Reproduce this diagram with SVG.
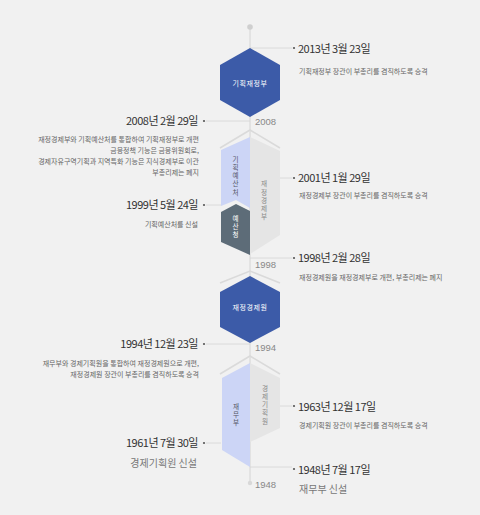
<svg xmlns="http://www.w3.org/2000/svg" width="480" height="515" viewBox="0 0 480 515">
<style>
.date{font-family:"Noto Sans CJK KR","Noto Sans",sans-serif;font-size:11px;fill:#333;letter-spacing:-0.5px}
.desc{font-family:"Noto Sans CJK KR",sans-serif;font-size:7px;fill:#666}
.big{font-family:"Noto Sans CJK KR",sans-serif;font-size:10px;fill:#777}
.yr{font-family:"Liberation Sans",Arial,sans-serif;font-size:9.5px;fill:#888}
.hex{font-family:"Noto Sans CJK KR",sans-serif;font-size:7px;fill:#fff;letter-spacing:0.6px}
.vt{font-family:"Noto Sans CJK KR",sans-serif;font-size:6.6px;text-anchor:middle;writing-mode:vertical-rl;letter-spacing:1.6px}
.lead{stroke:#d6d6d6;stroke-width:0.8;fill:none}
.chev{stroke:#dadada;stroke-width:1.6;fill:none}
.dot{fill:#555}
</style>
<rect width="480" height="515" fill="#f1f1f1"/>
<g id="connectors">
<line x1="250" y1="27" x2="250" y2="483" stroke="#d4d4d4" stroke-width="1"/>
<circle cx="250" cy="27" r="2.8" fill="#cfcfcf"/>
<circle cx="250" cy="483" r="2.2" fill="#d8d8d8"/>
<polyline class="chev" points="220,148 250,130 280,148"/>
<polyline class="chev" points="220,283 250,271 280,283"/>
<polyline class="chev" points="220,374 250,356 280,374"/>
<line class="lead" x1="250" y1="48" x2="292" y2="48"/>
<line class="lead" x1="280" y1="178" x2="292" y2="178"/>
<line class="lead" x1="250" y1="258" x2="292" y2="258"/>
<line class="lead" x1="280" y1="406" x2="292" y2="406"/>
<line class="lead" x1="250" y1="467" x2="292" y2="467"/>
<line class="lead" x1="206" y1="121" x2="250" y2="121"/>
<line class="lead" x1="206" y1="205" x2="221" y2="205"/>
<line class="lead" x1="206" y1="344" x2="250" y2="344"/>
<line class="lead" x1="206" y1="443" x2="221" y2="443"/>
</g>
<g id="node-mosf">
<polygon points="250,48 280,65 280,100 250,117 220,100 220,65" fill="#3c5ba8"/>
<text class="hex" x="250" y="85.5" text-anchor="middle">기획재정부</text>
</g>
<g id="node-mope">
<polygon points="250,137 280,151 280,235 250,254" fill="#e5e5e5"/>
<text class="vt" x="264" y="201" fill="#888">재정경제부</text>
</g>
<g id="node-mpb">
<polygon points="221,150 250,137 250,208 236,200 221,206" fill="#ccd5f6"/>
<text class="vt" x="235.5" y="176.5" fill="#556">기획예산처</text>
</g>
<g id="node-budget">
<polygon points="221,212 236,204 250,211 250,255 221,242" fill="#5d6c78"/>
<text class="vt" x="235.5" y="227.5" fill="#fff">예산청</text>
</g>
<g id="node-mofe">
<polygon points="250,276 280,292 280,327 250,343 220,327 220,292" fill="#3c5ba8"/>
<text class="hex" x="250" y="309.5" text-anchor="middle">재정경제원</text>
</g>
<g id="node-epb">
<polygon points="250,363 280,378 280,428 250,442" fill="#e5e5e5"/>
<text class="vt" x="265" y="405.5" fill="#888">경제기획원</text>
</g>
<g id="node-mof">
<polygon points="222,378 250,363 250,467 222,450" fill="#ccd5f6"/>
<text class="vt" x="236" y="415.5" fill="#556">재무부</text>
</g>
<g id="years">
<text class="yr" x="255" y="124.5">2008</text>
<text class="yr" x="255" y="267.5">1998</text>
<text class="yr" x="255" y="350.5">1994</text>
<text class="yr" x="255" y="487.5">1948</text>
</g>
<g id="right-events">
<circle class="dot" cx="294" cy="48" r="1.1"/>
<text class="date" x="298" y="52.5">2013년 3월 23일</text>
<text class="desc" x="299" y="73.5">기획재정부 장관이 부총리를 겸직하도록 승격</text>
<circle class="dot" cx="294" cy="178" r="1.1"/>
<text class="date" x="298" y="182">2001년 1월 29일</text>
<text class="desc" x="299" y="197.5">재정경제부 장관이 부총리를 겸직하도록 승격</text>
<circle class="dot" cx="294" cy="258" r="1.1"/>
<text class="date" x="298" y="261.5">1998년 2월 28일</text>
<text class="desc" x="299" y="279.5">재정경제원을 재정경제부로 개편, 부총리제는 폐지</text>
<circle class="dot" cx="294" cy="406" r="1.1"/>
<text class="date" x="298" y="410.5">1963년 12월 17일</text>
<text class="desc" x="299" y="427.5">경제기획원 장관이 부총리를 겸직하도록 승격</text>
<circle class="dot" cx="294" cy="469" r="1.1"/>
<text class="date" x="298" y="473.5">1948년 7월 17일</text>
<text class="big" x="299" y="492.5">재무부 신설</text>
</g>
<g id="left-events">
<circle class="dot" cx="204" cy="121" r="1.1"/>
<text class="date" x="198" y="125" text-anchor="end">2008년 2월 29일</text>
<text class="desc" text-anchor="end"><tspan x="199" y="141.5">재정경제부와 기획예산처를 통합하여 기획재정부로 개편</tspan><tspan x="199" y="152.5">금융정책 기능은 금융위원회로,</tspan><tspan x="199" y="163.5">경제자유구역기획과 지역특화 기능은 지식경제부로 이관</tspan><tspan x="199" y="174.5">부총리제는 폐지</tspan></text>
<circle class="dot" cx="204" cy="205" r="1.1"/>
<text class="date" x="198" y="209" text-anchor="end">1999년 5월 24일</text>
<text class="desc" x="198" y="226.5" text-anchor="end">기획예산처를 신설</text>
<circle class="dot" cx="204" cy="344" r="1.1"/>
<text class="date" x="198" y="348" text-anchor="end">1994년 12월 23일</text>
<text class="desc" text-anchor="end"><tspan x="199" y="365.5">재무부와 경제기획원을 통합하여 재정경제원으로 개편,</tspan><tspan x="199" y="376.5">재정경제원 장관이 부총리를 겸직하도록 승격</tspan></text>
<circle class="dot" cx="204" cy="443" r="1.1"/>
<text class="date" x="198" y="447" text-anchor="end">1961년 7월 30일</text>
<text class="big" x="197" y="466.5" text-anchor="end">경제기획원 신설</text>
</g>
</svg>
